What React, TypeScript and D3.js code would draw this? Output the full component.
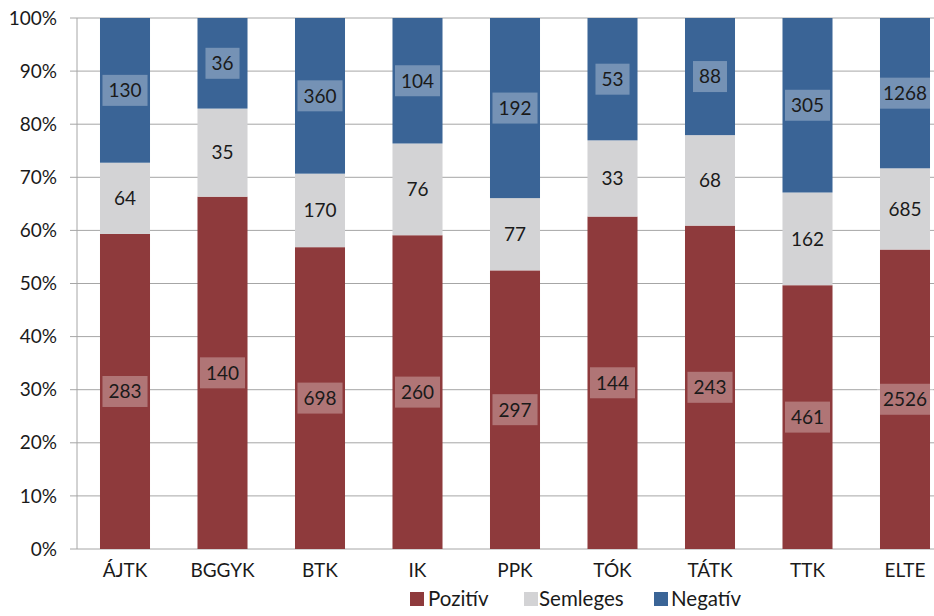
import React from "react";
import * as d3 from "d3";

const categories = ["ÁJTK", "BGGYK", "BTK", "IK", "PPK", "TÓK", "TÁTK", "TTK", "ELTE"];
const pozitiv = [283, 140, 698, 260, 297, 144, 243, 461, 2526];
const semleges = [64, 35, 170, 76, 77, 33, 68, 162, 685];
const negativ = [130, 36, 360, 104, 192, 53, 88, 305, 1268];
const seriesNames = ["Pozitív", "Semleges", "Negatív"];
const seriesColors = ["#8E3A3C", "#D3D3D5", "#3A6496"];
const yTicks = [0, 0.1, 0.2, 0.3, 0.4, 0.5, 0.6, 0.7, 0.8, 0.9, 1];

const W = 934, H = 616;
const FONT = "Lato, 'Open Sans', sans-serif";
const FS = 19;

export default function App() {
  const left = 76.25, top = 18, bottom = 549;
  const step = 97.5;
  const x = d3.scaleBand<string>().domain(categories).range([left, left + step * categories.length]).paddingInner(0.487).paddingOuter(0.2435);
  const y = d3.scaleLinear().domain([0, 1]).range([bottom, top]);
  const rows = categories.map((c, i) => ({ cat: c, Pozitív: pozitiv[i], Semleges: semleges[i], Negatív: negativ[i] }));
  const normalized = rows.map(r => {
    const t = r.Pozitív + r.Semleges + r.Negatív;
    return { cat: r.cat, Pozitív: r.Pozitív / t, Semleges: r.Semleges / t, Negatív: r.Negatív / t };
  });
  const stack = d3.stack<any>().keys(seriesNames);
  const layers = stack(normalized as any);
  const fmt = d3.format(".0%");
  const charW = 0.58 * FS;

  const legendItems = [
    { name: "Pozitív", x: 410, tx: 428 },
    { name: "Semleges", x: 524, tx: 539 },
    { name: "Negatív", x: 654, tx: 671 },
  ];

  return (
    <svg width={W} height={H} style={{ position: "absolute", left: 0, top: 0, background: "#fff" }} fontFamily={FONT}>
      {yTicks.map(t => (
        <g key={t}>
          <line x1={70} x2={W} y1={y(t)} y2={y(t)} stroke="#A6A6A6" strokeWidth={1} />
          <text x={57} y={y(t)} dy="0.35em" textAnchor="end" fontSize={FS} fill="#1a1a1a">{fmt(t)}</text>
        </g>
      ))}
      <line x1={77} x2={77} y1={top} y2={bottom} stroke="#A6A6A6" strokeWidth={1} />
      {layers.map((layer, li) => (
        <g key={layer.key}>
          {layer.map((d: any, i: number) => (
            <rect key={i} x={x(categories[i])} width={x.bandwidth()} y={y(d[1])} height={y(d[0]) - y(d[1])} fill={seriesColors[li]} />
          ))}
        </g>
      ))}
      {layers.map((layer, li) => (
        <g key={"l" + layer.key}>
          {layer.map((d: any, i: number) => {
            const v = (rows[i] as any)[layer.key];
            const label = String(v);
            const cx = (x(categories[i]) as number) + x.bandwidth() / 2;
            const cy = y((d[0] + d[1]) / 2);
            const bw = label.length * charW + 12;
            const bh = 31;
            return (
              <g key={i}>
                {li !== 1 && (
                  <rect x={cx - bw / 2} y={cy - bh / 2} width={bw} height={bh} fill="#fff" fillOpacity={0.3} />
                )}
                <text x={cx} y={cy} dy="0.36em" textAnchor="middle" fontSize={FS} fill="#1a1a1a">{label}</text>
              </g>
            );
          })}
        </g>
      ))}
      {categories.map(c => (
        <text key={c} x={(x(c) as number) + x.bandwidth() / 2} y={577} textAnchor="middle" fontSize={FS} fill="#1a1a1a">{c}</text>
      ))}
      {legendItems.map((it, i) => (
        <g key={it.name}>
          <rect x={it.x} y={592} width={14} height={14} fill={seriesColors[i]} />
          <text x={it.tx} y={606} fontSize={20.5} fill="#1a1a1a">{it.name}</text>
        </g>
      ))}
    </svg>
  );
}
